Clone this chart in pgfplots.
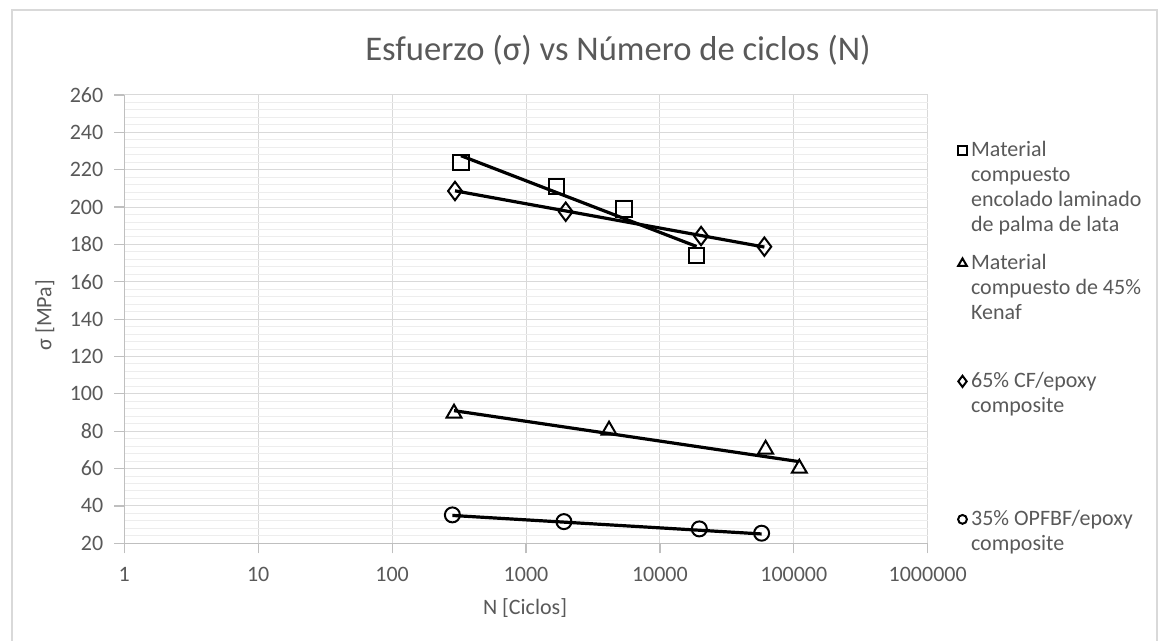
\documentclass[border=0pt]{standalone}
\usepackage{fontspec}
\setmainfont{Carlito}
\usepackage{pgfplots}
\pgfplotsset{compat=1.18}
\definecolor{textgray}{HTML}{595959}
\definecolor{gridmaj}{HTML}{D9D9D9}
\definecolor{gridmin}{HTML}{EDEDED}
\definecolor{axisgray}{HTML}{BFBFBF}
\definecolor{framecol}{HTML}{D9D9D9}
\begin{document}
\begin{tikzpicture}
\useasboundingbox (0,0) rectangle (582pt,320.5pt);
\draw[framecol, line width=0.6pt] (6pt,0) -- (6pt,315.5pt) -- (578.5pt,315.5pt) -- (578.5pt,0);
\begin{axis}[
  at={(62.15pt,48.85pt)}, anchor=south west,
  scale only axis, width=401.7pt, height=224.15pt,
  xmode=log, log basis x=10,
  xmin=1, xmax=1000000, ymin=20, ymax=260,
  xtick={1,10,100,1000,10000,100000,1000000},
  xticklabels={1,10,100,1000,10000,100000,1000000},
  ytick={20,40,...,260},
  minor y tick num=4,
  grid=both,
  major grid style={draw=gridmaj, line width=0.5pt},
  minor grid style={draw=gridmin, line width=0.5pt},
  axis lines*=left,
  axis line style={draw=axisgray, line width=0.6pt},
  tick align=outside,
  major tick length=5pt, minor tick length=0pt,
  tick style={draw=axisgray, line width=0.6pt},
  /pgf/number format/assume math mode=true,
  ticklabel style={font=\fontsize{11}{13}\selectfont, text=textgray},
  yticklabel style={xshift=-2pt},
  xticklabel style={yshift=-3.5pt},
  title={Esfuerzo (σ) vs Número de ciclos (N)},
  title style={at={(axis description cs:0.6145,1.0736)}, anchor=center,
    font=\fontsize{17.3}{20}\selectfont, text=textgray},
  xlabel={N [Ciclos]},
  xlabel style={at={(axis description cs:0.4988,-0.1443)}, anchor=center,
    font=\fontsize{11}{13}\selectfont, text=textgray},
  ylabel={σ [MPa]},
  ylabel style={at={(axis description cs:-0.0987,0.509)}, anchor=center,
    font=\fontsize{11}{13}\selectfont, text=textgray},
  legend style={at={(axis description cs:1.0371,0.903)}, anchor=north west,
    draw=none, fill=none, inner sep=0pt, row sep=0pt,
    font=\fontsize{11}{12.5}\selectfont, text=textgray,
    nodes={text depth=, text height=, inner ysep=0pt, anchor=base west}},
  legend cell align=left,
]
% Material compuesto encolado laminado de palma de lata
\addplot[only marks, mark=square, mark size=3.8pt, mark options={line width=1pt, draw=black, fill=none},
  legend image code/.code={\draw[mark=square, mark size=2.3pt, line width=0.8pt, draw=black] plot coordinates {(0pt,3pt)};}]
  coordinates {(327,224) (1690,211) (5400,199) (18800,174)};
\addlegendentry{\begin{tabular}[t]{@{}l@{}}Material\\compuesto\\encolado laminado\\de palma de lata\rule[-10.25pt]{0pt}{0pt}\end{tabular}}
% Material compuesto de 45% Kenaf
\addplot[only marks, mark=triangle, mark size=4.3pt, mark options={line width=1pt, draw=black, fill=none},
  legend image code/.code={\draw[mark=triangle, mark size=2.5pt, line width=0.8pt, draw=black] plot coordinates {(0pt,3pt)};}]
  coordinates {(290,89.6) (4170,80.5) (61600,70.3) (110000,60.1)};
\addlegendentry{\begin{tabular}[t]{@{}l@{}}Material\\compuesto de 45\%\\Kenaf\rule[-25.25pt]{0pt}{0pt}\end{tabular}}
% 65% CF/epoxy composite
\addplot[only marks, mark=diamond, mark size=4.6pt, mark options={line width=1pt, draw=black, fill=none},
  legend image code/.code={\draw[mark=diamond, mark size=2.8pt, line width=0.8pt, draw=black] plot coordinates {(0pt,3pt)};}]
  coordinates {(295,208.6) (1980,197.5) (20300,184.5) (60300,178.8)};
\addlegendentry{\begin{tabular}[t]{@{}l@{}}65\% CF/epoxy\\composite\rule[-47.75pt]{0pt}{0pt}\end{tabular}}
% 35% OPFBF/epoxy composite
\addplot[only marks, mark=o, mark size=3.75pt, mark options={line width=1pt, draw=black, fill=none},
  legend image code/.code={\draw[mark=o, mark size=2.2pt, line width=0.8pt, draw=black] plot coordinates {(0pt,3pt)};}]
  coordinates {(282,35.2) (1920,31.6) (19700,27.7) (57500,25.4)};
\addlegendentry{\begin{tabular}[t]{@{}l@{}}35\% OPFBF/epoxy\\composite\end{tabular}}
% trend lines
\addplot[forget plot, black, line width=1.6pt] coordinates {(327,227.5) (18800,178.9)};
\addplot[forget plot, black, line width=1.6pt] coordinates {(295,208.7) (60300,178.6)};
\addplot[forget plot, black, line width=1.6pt] coordinates {(290,91.0) (110000,63.7)};
\addplot[forget plot, black, line width=1.6pt] coordinates {(282,34.9) (57500,25.0)};
\end{axis}
\end{tikzpicture}
\end{document}
